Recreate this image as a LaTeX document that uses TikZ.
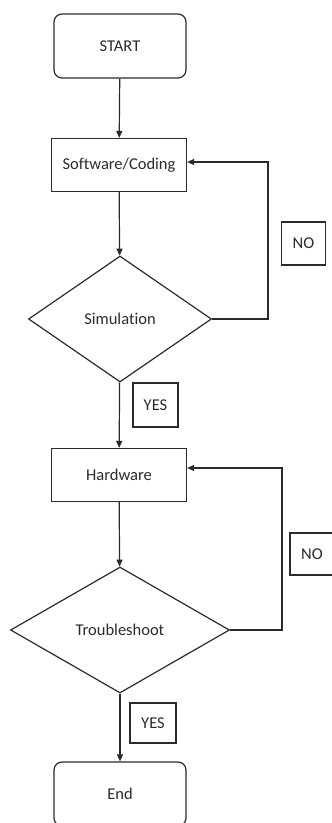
\documentclass[tikz,border=0pt]{standalone}
\usepackage{fontspec}
\setmainfont[Ligatures=NoCommon]{Carlito}
\usetikzlibrary{shapes.geometric,arrows.meta}
\definecolor{ink}{HTML}{2B2B2B}
\begin{document}
\begin{tikzpicture}[x=1pt,y=-1pt,
  every node/.style={text=ink},
  lbl/.style={font=\fontsize{16.5}{19}\selectfont},
  term/.style={draw=ink, line width=1.2pt, rounded corners=8pt, minimum width=132pt, minimum height=64pt, inner sep=0pt, lbl},
  proc/.style={draw=ink, line width=1.2pt, minimum width=135pt, minimum height=53pt, inner sep=0pt, lbl},
  dec/.style={draw=ink, line width=1.2pt, diamond, inner sep=0pt, lbl},
  tag/.style={draw=ink, line width=1.2pt, inner sep=0pt, lbl},
  arr/.style={draw=ink, line width=1.2pt, -{Triangle[length=7pt,width=6pt]}},
  ln/.style={draw=ink, line width=1.2pt}
]
\useasboundingbox (0,0) rectangle (332,823);
\node[term] (start) at (120,46) {START};
\node[proc] (soft) at (119,165) {Software/Coding};
\node[dec, minimum width=183pt, minimum height=126pt] (sim) at (120,319) {Simulation};
\node[proc] (hard) at (119,475) {Hardware};
\node[dec, minimum width=219pt, minimum height=126pt] (trb) at (120,630) {Troubleshoot};
\node[term] (end) at (120,794) {End};
\node[tag, minimum width=44pt, minimum height=43pt] (no1) at (303.5,243.5) {NO};
\node[tag, minimum width=45pt, minimum height=44pt] (yes1) at (155.5,405) {YES};
\node[tag, minimum width=44pt, minimum height=42pt] (no2) at (312,554) {NO};
\node[tag, minimum width=46pt, minimum height=40pt] (yes2) at (153,723) {YES};
\coordinate (c1) at (268,319);
\coordinate (c2) at (282,630);
\draw[arr] (start) -- (soft);
\draw[arr] (soft) -- (sim);
\draw[arr] (sim) -- (hard);
\draw[arr] (hard) -- (trb);
\draw[arr] (trb) -- (end);
\draw[arr] (sim.east) -- (c1) |- ([yshift=3pt]soft.east);
\draw[arr] (trb.east) -- (c2) |- ([yshift=7pt]hard.east);
\end{tikzpicture}
\end{document}
